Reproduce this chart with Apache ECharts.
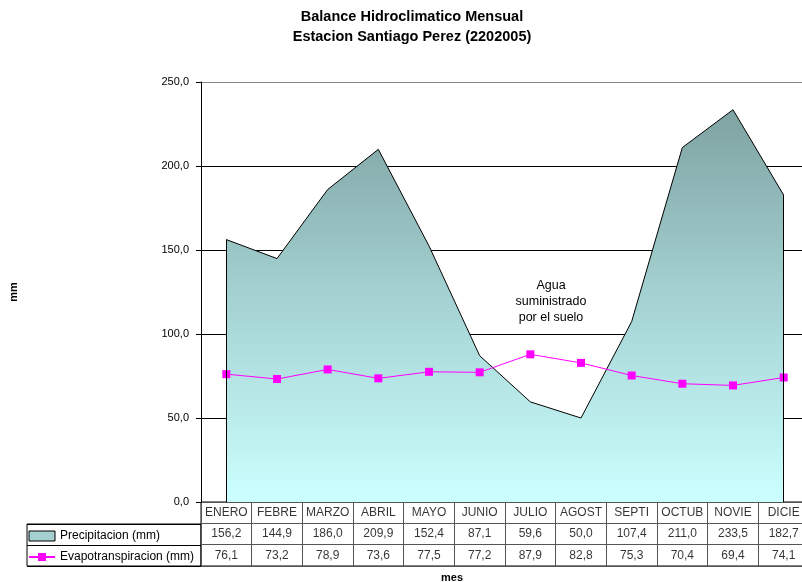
<!DOCTYPE html>
<html lang="es">
    <head>
        <meta charset="UTF-8" />
        <script type="text/javascript" src="https://cdn.jsdelivr.net/npm/echarts@6/dist/echarts.min.js"></script>
        <title>Balance Hidroclimatico Mensual</title>
        <style type="text/css">
            body { margin: 0; overflow: hidden; }
            #chart { width: 812px; height: 582px; }
        </style>
    </head>
    <body>
        <div id="chart"></div>
        <script type="text/javascript">
            let meses = ["ENERO", "FEBRE", "MARZO", "ABRIL", "MAYO", "JUNIO", "JULIO", "AGOST", "SEPTI", "OCTUB", "NOVIE", "DICIE"];
            let precipitacion = [156.2, 144.9, 186.0, 209.9, 152.4, 87.1, 59.6, 50.0, 107.4, 211.0, 233.5, 182.7];
            let evapotranspiracion = [76.1, 73.2, 78.9, 73.6, 77.5, 77.2, 87.9, 82.8, 75.3, 70.4, 69.4, 74.1];
            let filas = ["mes", "precip", "evap"];

            const FONT = "Liberation Sans, Arial, sans-serif";
            let fmt = (v) => v.toFixed(1).replace(".", ",");

            let chart = echarts.init(document.getElementById("chart"));

            let areaColor = new echarts.graphic.LinearGradient(0, 0, 0, 1, [
                { offset: 0, color: "#7fa2a2" },
                { offset: 0.5, color: "#a6d4d4" },
                { offset: 1, color: "#ccffff" },
            ]);

            let n = meses.length - 1;

            // etiquetas de texto de la tabla (serie scatter invisible)
            function filaTabla(name, data, formatter) {
                return {
                    name: name,
                    type: "scatter",
                    xAxisIndex: 1,
                    yAxisIndex: 1,
                    symbolSize: 1,
                    silent: true,
                    itemStyle: { color: "transparent" },
                    data: data,
                    label: { show: true, position: "inside", color: "#000", fontSize: 12, fontFamily: FONT, formatter: formatter },
                };
            }

            let option = {
                animation: false,
                textStyle: { fontFamily: FONT },
                title: {
                    left: 407,
                    textAlign: "center",
                    top: 2,
                    text: "Balance Hidroclimatico Mensual\nEstacion Santiago Perez (2202005)",
                    textStyle: { fontSize: 14.5, fontWeight: "bold", color: "#000", lineHeight: 20, fontFamily: FONT },
                },
                legend: {
                    orient: "vertical",
                    left: 28,
                    top: 530,
                    padding: 0,
                    itemGap: 9,
                    itemWidth: 26,
                    itemHeight: 10,
                    textStyle: { fontSize: 12, color: "#000", fontFamily: FONT },
                    data: [
                        {
                            name: "Precipitacion (mm)",
                            icon: "rect",
                            itemStyle: { color: "#a6d0d0", borderColor: "#000", borderWidth: 1 },
                        },
                        { name: "Evapotranspiracion (mm)" },
                    ],
                },
                grid: [
                    { left: 201, top: 82, width: 608, height: 420 },
                    { left: 201, top: 502, width: 608, height: 64, show: true, borderColor: "#000", borderWidth: 1 },
                    { left: 27, top: 524, width: 174, height: 42, show: true, borderColor: "#000", borderWidth: 1 },
                ],
                xAxis: [
                    {
                        gridIndex: 0,
                        type: "category",
                        data: meses,
                        boundaryGap: true,
                        axisLine: { show: false },
                        axisTick: { show: false },
                        axisLabel: { show: false },
                    },
                    {
                        gridIndex: 1,
                        type: "category",
                        data: meses,
                        axisLine: { show: false },
                        axisTick: { show: false },
                        axisLabel: { show: false, interval: 0 },
                        splitLine: { show: true, interval: 0, lineStyle: { color: "#555", width: 1 } },
                    },
                    {
                        gridIndex: 2,
                        type: "value",
                        show: false,
                    },
                ],
                yAxis: [
                    {
                        gridIndex: 0,
                        type: "value",
                        min: 0,
                        max: 250,
                        interval: 50,
                        name: "mm",
                        nameLocation: "middle",
                        nameGap: 182,
                        nameRotate: 90,
                        nameTextStyle: { fontSize: 11, fontWeight: "bold", color: "#000", fontFamily: FONT },
                        axisLine: { show: true, lineStyle: { color: "#000" } },
                        axisTick: { show: true, length: 5, lineStyle: { color: "#000" } },
                        axisLabel: {
                            color: "#000",
                            fontSize: 11,
                            margin: 12,
                            formatter: (v) => fmt(v),
                        },
                        splitLine: {
                            show: true,
                            lineStyle: { color: ["#000", "#000", "#000", "#000", "#000", "#888"], width: 1 },
                        },
                    },
                    {
                        gridIndex: 1,
                        type: "category",
                        data: filas,
                        inverse: true,
                        axisLine: { show: false },
                        axisTick: { show: false },
                        axisLabel: { show: false, interval: 0 },
                        splitLine: { show: true, interval: 0, lineStyle: { color: "#555", width: 1 } },
                    },
                    {
                        gridIndex: 2,
                        type: "category",
                        data: ["precip", "evap"],
                        inverse: true,
                        axisLine: { show: false },
                        axisTick: { show: false },
                        axisLabel: { show: false, interval: 0 },
                        splitLine: { show: true, interval: 0, lineStyle: { color: "#000", width: 1 } },
                    },
                ],
                graphic: [
                    {
                        type: "text",
                        x: 551,
                        y: 278,
                        style: {
                            text: "Agua\nsuministrado\npor el suelo",
                            textAlign: "center",
                            font: "12.5px " + FONT,
                            lineHeight: 16,
                            fill: "#000",
                        },
                    },
                    {
                        type: "text",
                        x: 452,
                        y: 572,
                        style: { text: "mes", textAlign: "center", font: "bold 11px " + FONT, fill: "#000" },
                    },
                ],
                series: [
                    {
                        name: "Precipitacion (mm)",
                        type: "line",
                        xAxisIndex: 0,
                        yAxisIndex: 0,
                        data: precipitacion,
                        symbol: "none",
                        lineStyle: { color: "#000", width: 1 },
                        itemStyle: { color: "#a6d0d0" },
                        areaStyle: { color: areaColor, opacity: 1 },
                        markLine: {
                            silent: true,
                            symbol: "none",
                            label: { show: false },
                            lineStyle: { color: "#000", width: 1, type: "solid" },
                            data: [
                                [{ coord: [0, 0] }, { coord: [0, precipitacion[0]] }],
                                [{ coord: [n, 0] }, { coord: [n, precipitacion[n]] }],
                            ],
                        },
                    },
                    {
                        name: "Evapotranspiracion (mm)",
                        type: "line",
                        xAxisIndex: 0,
                        yAxisIndex: 0,
                        data: evapotranspiracion,
                        symbol: "rect",
                        symbolSize: 8,
                        lineStyle: { color: "#ff00ff", width: 1 },
                        itemStyle: { color: "#ff00ff" },
                    },
                    filaTabla("hdr", meses.map((m, i) => [i, 0]), (p) => meses[p.value[0]]),
                    filaTabla("precipTxt", precipitacion.map((v, i) => [i, 1, v]), (p) => fmt(p.value[2])),
                    filaTabla("evapTxt", evapotranspiracion.map((v, i) => [i, 2, v]), (p) => fmt(p.value[2])),
                ],
            };
            chart.setOption(option);
        </script>
    </body>
</html>
